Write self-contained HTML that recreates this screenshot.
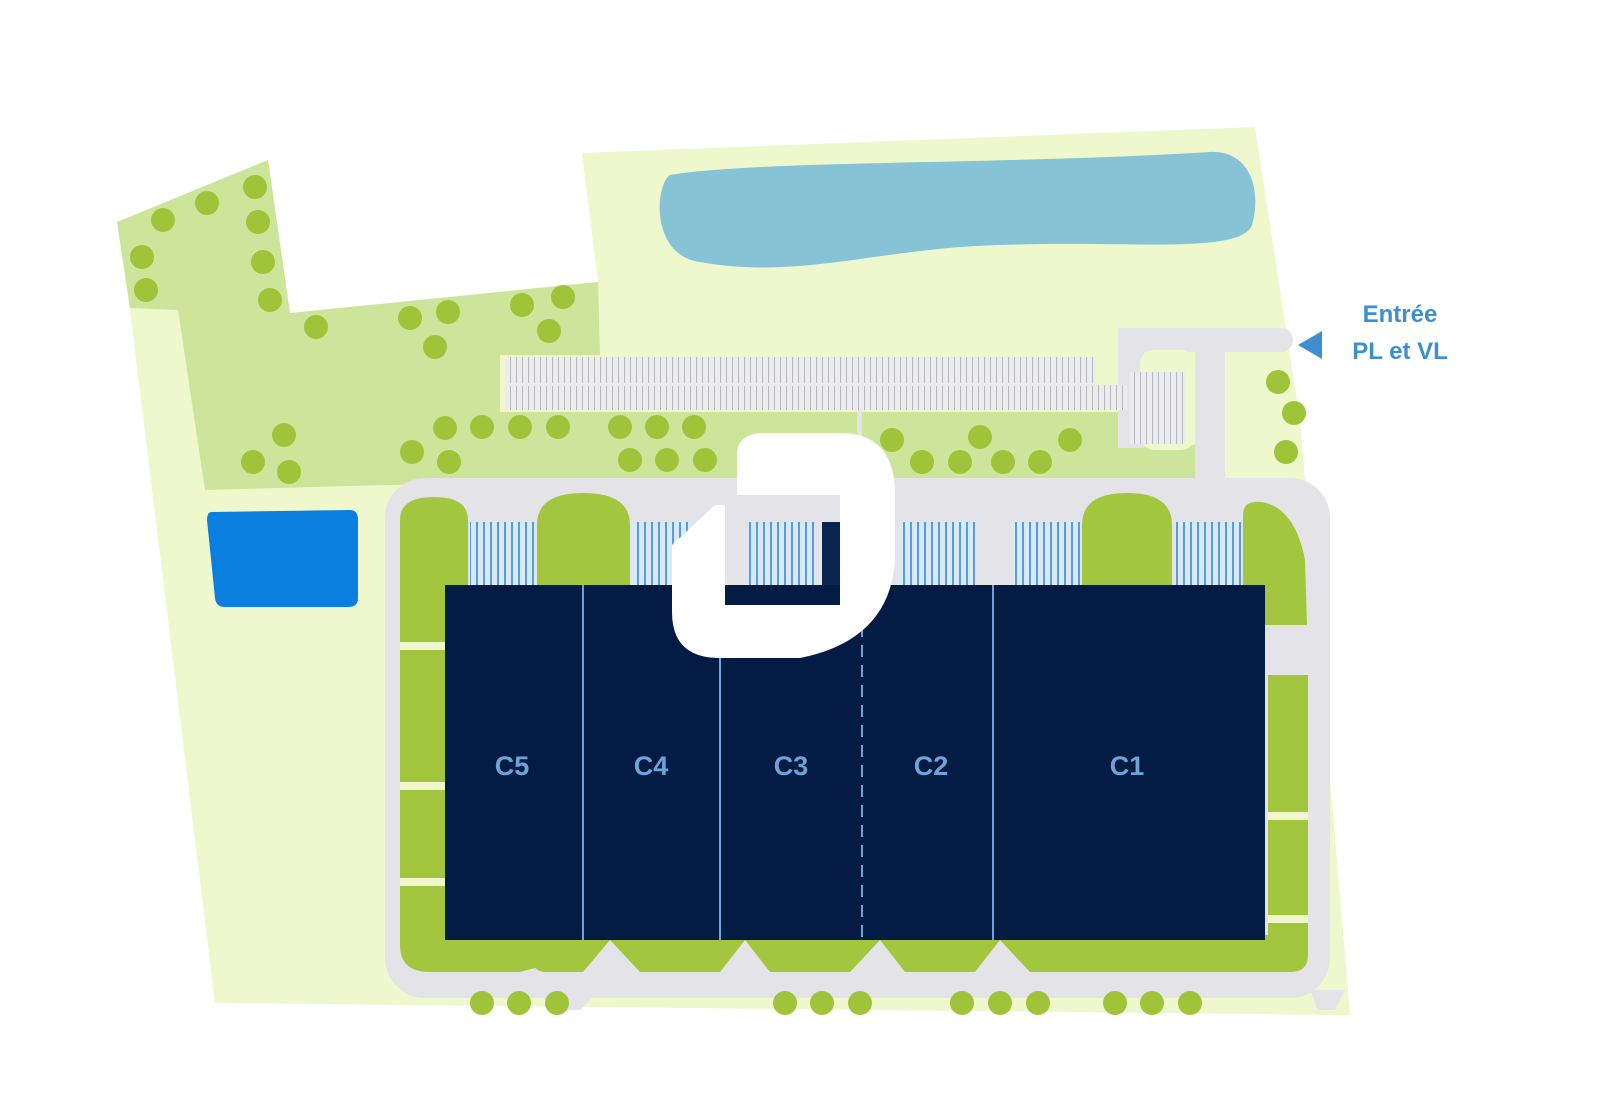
<!DOCTYPE html>
<html><head><meta charset="utf-8"><style>html,body{margin:0;padding:0;background:#fff}svg{display:block}</style></head><body>
<svg width="1600" height="1112" viewBox="0 0 1600 1112" xmlns="http://www.w3.org/2000/svg">
<defs>
<pattern id="pk" width="6" height="10" patternUnits="userSpaceOnUse"><rect width="6" height="10" fill="#ececee"/><rect x="0" width="1" height="10" fill="#b8b8c0"/></pattern>
<pattern id="dock" width="7" height="10" patternUnits="userSpaceOnUse"><rect width="7" height="10" fill="#d6eafa"/><rect x="0" width="2" height="10" fill="#5c9bd6"/></pattern>
</defs>
<!-- pale base -->
<polygon points="117,222 268,160 290,313 598,282 582,153 1255,127 1300,420 1350,1015 215,1003 130,310" fill="#eef8cc"/>
<!-- darker green area -->
<polygon points="117,222 268,160 290,313 598,282 600,355 500,355 500,412 1130,412 1130,445 1195,445 1195,480 385,485 205,490 178,310 130,308" fill="#cde59a"/>
<!-- pond -->
<path d="M670,175 C760,160 1000,165 1210,152 C1250,150 1262,190 1252,225 C1240,255 1130,240 1000,245 C880,248 800,280 700,262 C650,255 655,185 670,175 Z" fill="#86c3d6"/>
<!-- pool -->
<path d="M212,512 L350,510 Q358,510 358,520 L358,598 Q358,607 348,607 L225,607 Q216,607 215,598 L207,520 Q207,512 212,512 Z" fill="#0a7fe0"/>
<!-- roads -->
<rect x="385" y="478" width="945" height="520" rx="40" fill="#e3e3e8"/>
<rect x="1195" y="330" width="30" height="160" fill="#e3e3e8"/>
<rect x="1118" y="328" width="175" height="24" rx="12" fill="#e3e3e8"/>
<rect x="1118" y="328" width="26" height="120" fill="#e3e3e8"/>
<rect x="1140" y="350" width="55" height="100" rx="14" fill="#eef8cc"/>
<rect x="1228" y="355" width="62" height="120" rx="20" fill="#eef8cc"/>
<polygon points="535,990 600,990 580,1010 555,1010" fill="#e3e3e8"/>
<polygon points="1310,990 1345,990 1335,1010 1318,1010" fill="#e3e3e8"/>
<!-- parking -->
<rect x="505" y="357" width="590" height="26" fill="url(#pk)"/>
<rect x="505" y="385" width="622" height="25" fill="url(#pk)"/>
<rect x="505" y="383" width="590" height="3" fill="#ececee"/>
<rect x="857" y="410" width="5" height="70" fill="#e3e3e8"/>
<rect x="1130" y="372" width="55" height="72" fill="url(#pk)"/>
<!-- green islands top -->
<path d="M400,585 L400,520 Q400,497 434,497 Q468,497 468,520 L468,585 Z" fill="#a3c63f"/>
<path d="M537,585 L537,525 Q537,493 583,493 Q630,493 630,525 L630,585 Z" fill="#a3c63f"/>
<path d="M1082,585 L1082,525 Q1082,493 1127,493 Q1172,493 1172,525 L1172,585 Z" fill="#a3c63f"/>
<path d="M1243,625 L1243,515 Q1243,500 1262,502 Q1295,508 1305,560 L1307,625 Z" fill="#a3c63f"/>
<!-- docks -->
<rect x="470" y="522" width="66" height="63" fill="url(#dock)"/>
<rect x="632" y="522" width="58" height="63" fill="url(#dock)"/>
<rect x="748" y="522" width="68" height="63" fill="url(#dock)"/>
<rect x="822" y="522" width="20" height="63" fill="#0a2450"/>
<rect x="900" y="522" width="76" height="63" fill="url(#dock)"/>
<rect x="1013" y="522" width="68" height="63" fill="url(#dock)"/>
<rect x="1175" y="522" width="66" height="63" fill="url(#dock)"/>
<!-- left strips -->
<rect x="400" y="585" width="48" height="360" fill="#a3c63f"/>
<rect x="400" y="642" width="45" height="8" fill="#eef8cc"/>
<rect x="400" y="782" width="45" height="8" fill="#eef8cc"/>
<rect x="400" y="878" width="45" height="8" fill="#eef8cc"/>
<!-- bottom strip with cutouts -->
<path d="M400,935 L1308,935 L1308,955 Q1308,972 1290,972 L1030,972 L1000,940 L975,972 L905,972 L880,940 L850,972 L770,972 L745,940 L720,972 L640,972 L610,940 L583,972 L545,972 Q540,972 535,968 L520,972 L430,972 Q400,972 400,945 Z" fill="#a3c63f"/>
<!-- right strips -->
<rect x="1268" y="675" width="40" height="262" fill="#a3c63f"/>
<rect x="1268" y="812" width="40" height="8" fill="#eef8cc"/>
<rect x="1268" y="915" width="40" height="8" fill="#eef8cc"/>
<!-- building -->
<rect x="445" y="585" width="820" height="355" fill="#041c44"/>
<g stroke="#6fa3d8" stroke-width="2">
<line x1="583" y1="585" x2="583" y2="940"/>
<line x1="720" y1="585" x2="720" y2="940"/>
<line x1="862" y1="585" x2="862" y2="940" stroke-dasharray="12,8"/>
<line x1="993" y1="585" x2="993" y2="940"/>
</g>
<g font-family="Liberation Sans, sans-serif" font-weight="bold" font-size="27" fill="#6fa3d8" text-anchor="middle">
<text x="512" y="775">C5</text><text x="651" y="775">C4</text><text x="791" y="775">C3</text><text x="931" y="775">C2</text><text x="1127" y="775">C1</text>
</g>
<!-- trees -->
<g fill="#9fc43a">
<circle cx="163" cy="220" r="12"/><circle cx="207" cy="203" r="12"/><circle cx="255" cy="187" r="12"/><circle cx="258" cy="222" r="12"/><circle cx="142" cy="257" r="12"/><circle cx="146" cy="290" r="12"/><circle cx="263" cy="262" r="12"/><circle cx="270" cy="300" r="12"/><circle cx="316" cy="327" r="12"/><circle cx="410" cy="318" r="12"/><circle cx="448" cy="312" r="12"/><circle cx="435" cy="347" r="12"/><circle cx="522" cy="305" r="12"/><circle cx="563" cy="297" r="12"/><circle cx="549" cy="331" r="12"/>
<circle cx="284" cy="435" r="12"/><circle cx="253" cy="462" r="12"/><circle cx="289" cy="472" r="12"/><circle cx="412" cy="452" r="12"/><circle cx="445" cy="428" r="12"/><circle cx="449" cy="462" r="12"/><circle cx="482" cy="427" r="12"/><circle cx="520" cy="427" r="12"/><circle cx="558" cy="427" r="12"/><circle cx="620" cy="427" r="12"/><circle cx="657" cy="427" r="12"/><circle cx="694" cy="427" r="12"/><circle cx="630" cy="460" r="12"/><circle cx="667" cy="460" r="12"/><circle cx="705" cy="460" r="12"/><circle cx="818" cy="445" r="12"/>
<circle cx="892" cy="440" r="12"/><circle cx="922" cy="462" r="12"/><circle cx="960" cy="462" r="12"/><circle cx="980" cy="437" r="12"/><circle cx="1003" cy="462" r="12"/><circle cx="1040" cy="462" r="12"/><circle cx="1070" cy="440" r="12"/>
<circle cx="1278" cy="382" r="12"/><circle cx="1294" cy="413" r="12"/><circle cx="1286" cy="452" r="12"/>
<circle cx="482" cy="1003" r="12"/><circle cx="519" cy="1003" r="12"/><circle cx="557" cy="1003" r="12"/><circle cx="785" cy="1003" r="12"/><circle cx="822" cy="1003" r="12"/><circle cx="860" cy="1003" r="12"/><circle cx="962" cy="1003" r="12"/><circle cx="1000" cy="1003" r="12"/><circle cx="1038" cy="1003" r="12"/><circle cx="1115" cy="1003" r="12"/><circle cx="1152" cy="1003" r="12"/><circle cx="1190" cy="1003" r="12"/>
</g>
<!-- logo -->
<path d="M737,478 L737,455 Q737,433 765,433 L840,433 Q895,433 895,495 L895,560 Q890,640 800,658 L720,658 Q672,658 672,612 L672,545 L715,505 L725,505 L725,605 L840,605 L840,495 L737,495 Z" fill="#ffffff"/>
<!-- entrance -->
<polygon points="1298,345 1322,331 1322,359" fill="#3d8fd1"/>
<g font-family="Liberation Sans, sans-serif" font-weight="bold" font-size="24" fill="#3d8fd1" text-anchor="middle">
<text x="1400" y="322">Entrée</text><text x="1400" y="359">PL et VL</text>
</g>
</svg>
</body></html>
